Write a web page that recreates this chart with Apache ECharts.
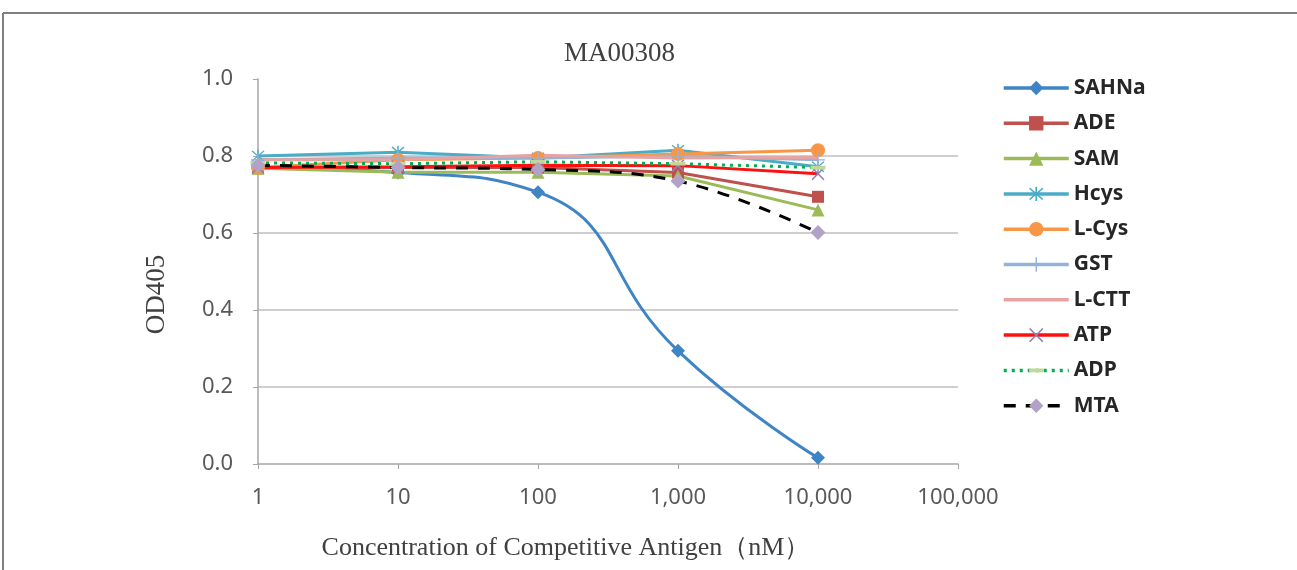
<!DOCTYPE html>
<html>
<head>
<meta charset="utf-8">
<script src="https://cdn.jsdelivr.net/npm/echarts@6/dist/echarts.min.js"></script>
<style>html,body{margin:0;padding:0;background:#fff;}#main{width:1297px;height:570px;}</style>
</head>
<body>
<div id="main"></div>
<script>
// concentrations (nM)
const concentrations = [1, 10, 100, 1000, 10000];
const SAHNa = [0.770, 0.757, 0.706, 0.294, 0.016];
const ADE   = [0.768, 0.770, 0.770, 0.757, 0.694];
const SAM   = [0.768, 0.758, 0.758, 0.748, 0.660];
const Hcys  = [0.800, 0.810, 0.795, 0.815, 0.772];
const LCys  = [0.770, 0.790, 0.795, 0.805, 0.815];
const GST   = [0.790, 0.795, 0.795, 0.800, 0.790];
const LCTT  = [0.790, 0.790, 0.802, 0.795, 0.796];
const ATP   = [0.770, 0.772, 0.776, 0.775, 0.754];
const ADP   = [0.782, 0.780, 0.785, 0.780, 0.770];
const MTA   = [0.776, 0.770, 0.765, 0.735, 0.601];

const titleText = 'MA00308';
const xName = 'Concentration of Competitive Antigen（nM）';
const yName = 'OD405';

const ASTERISK = 'path://M9,0h2v20h-2z M1.4,2.8L2.8,1.4L18.6,17.2L17.2,18.6Z M17.2,1.4L18.6,2.8L2.8,18.6L1.4,17.2Z';
const PLUS = 'path://M9,0h2v20h-2z M0,9h20v2H0z';
const XMARK = 'path://M1.4,2.8L2.8,1.4L18.6,17.2L17.2,18.6Z M17.2,1.4L18.6,2.8L2.8,18.6L1.4,17.2Z';
const DASH = 'path://M0,7.5h20v5H0z M10,0h0.01v0.01z M10,19.99h0.01v0.01z';

function pairs(vals){ return concentrations.map((c,i)=>[c, vals[i]]); }

function mk(name, vals, lineColor, symbol, symColor, symSize, extra){
  return Object.assign({
    name, type:'line', data: pairs(vals),
    symbol, symbolSize: symSize,
    lineStyle:{color: lineColor, width: 3},
    itemStyle:{color: symColor},
    emphasis:{disabled:true}, animation:false
  }, extra||{});
}

const series = [
  mk('SAHNa', SAHNa, '#3F84C4', 'diamond', '#3F84C4', 14, {smooth:0.5}),
  mk('ADE', ADE, '#C0504D', 'rect', '#C0504D', 12),
  mk('SAM', SAM, '#9BBB59', 'triangle', '#9BBB59', 13),
  mk('Hcys', Hcys, '#4BACC6', ASTERISK, '#4BACC6', 13),
  mk('L-Cys', LCys, '#F79646', 'circle', '#F79646', 14),
  mk('GST', GST, '#95B3D7', PLUS, '#95B3D7', 14),
  mk('L-CTT', LCTT, '#E6A3A2', 'none', '#E6A3A2', 1),
  mk('ATP', ATP, '#FF1010', XMARK, '#8F7DB8', 13),
  mk('ADP', ADP, '#00B050', DASH, '#C3D69B', 15, {lineStyle:{color:'#00B050', width:3, type:[3,5]}}),
  mk('MTA', MTA, '#000000', 'diamond', '#B3A2C7', 15, {smooth:0.4, lineStyle:{color:'#000000', width:3, type:[12,10]}})
];

const legendData = series.map(s => s.name === 'L-CTT'
  ? {name: s.name, itemStyle:{color:'rgba(0,0,0,0)', borderWidth:0}}
  : {name: s.name});

const chart = echarts.init(document.getElementById('main'), null, {renderer:'canvas'});
chart.setOption({
  backgroundColor:'#ffffff',
  animation:false,
  title:{
    text: titleText, left:564, top: 40, padding:0,
    textStyle:{fontFamily:'Liberation Serif', fontWeight:'normal', fontSize:27, color:'#404040'}
  },
  grid:{left:258, right:339, top:79, bottom:106, containLabel:false},
  legend:{
    orient:'vertical', left:997, top:72,
    itemWidth:65, itemHeight:18, itemGap:13.3,
    lineStyle:{width:3.5},
    textStyle:{fontFamily:'Noto Sans', fontWeight:'bold', fontSize:21, color:'#262626', lineHeight:22},
    data: legendData
  },
  xAxis:{
    type:'log', logBase:10, min:1, max:100000,
    name: xName, nameLocation:'middle', nameGap:71,
    nameTextStyle:{fontFamily:'Liberation Serif', fontSize:26, color:'#404040', padding:[0,84,0,0]},
    axisLine:{show:true, lineStyle:{color:'#A6A6A6', width:1.5}},
    axisTick:{show:true, length:5, lineStyle:{color:'#A6A6A6'}},
    minorTick:{show:false},
    splitLine:{show:false},
    axisLabel:{margin:23, fontFamily:'Noto Sans', fontSize:22, color:'#595959',
      formatter: v => Math.round(v).toLocaleString('en-US')}
  },
  yAxis:{
    type:'value', min:0, max:1, interval:0.2,
    name: yName, nameLocation:'middle', nameGap:88,
    nameTextStyle:{fontFamily:'Liberation Serif', fontSize:27, color:'#404040', padding:[0,46,0,0]},
    axisLine:{show:true, lineStyle:{color:'#A6A6A6', width:1.5}},
    axisTick:{show:true, length:5, lineStyle:{color:'#A6A6A6'}},
    splitLine:{show:true, showMaxLine:false, showMinLine:false, lineStyle:{color:'#BFBFBF', width:1.5}},
    axisLabel:{margin:25, fontFamily:'Noto Sans', fontSize:22, color:'#595959',
      formatter: v => v.toFixed(1)}
  },
  graphic:[
    {type:'line', shape:{x1:3, y1:13, x2:1297, y2:13}, style:{stroke:'#7F7F7F', lineWidth:2}, silent:true},
    {type:'line', shape:{x1:3, y1:13, x2:3, y2:570}, style:{stroke:'#7F7F7F', lineWidth:2}, silent:true}
  ],
  series
});
</script>
</body>
</html>
